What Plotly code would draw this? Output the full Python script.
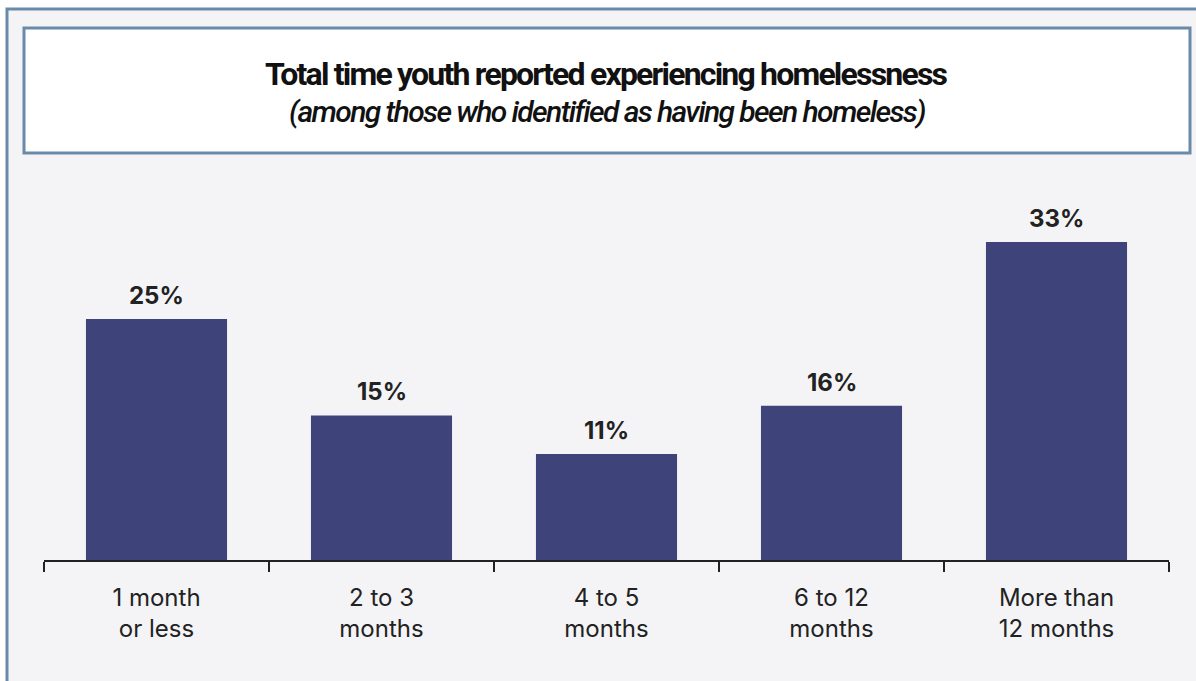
import plotly.graph_objects as go

categories = ["1 month<br>or less", "2 to 3<br>months", "4 to 5<br>months",
              "6 to 12<br>months", "More than<br>12 months"]
shares = [25, 15, 11, 16, 33]
value_labels = ["25%", "15%", "11%", "16%", "33%"]

title_line = "Total time youth reported experiencing homelessness"
subtitle_line = "(among those who identified as having been homeless)"

W, H = 1196, 681
L, R, T, B = 44, 27, 180, 121
PW, PH = W - L - R, H - T - B

BAR = "#3e4479"
PANEL = "#f4f4f7"
FRAME = "#6a8aa9"
INK = "#222222"
TITLE_FONT = "Roboto, sans-serif"
BODY_FONT = "Inter, Roboto, sans-serif"


def px_x(p):
    return (p - L) / PW


def px_y(p):
    return (H - B - p) / PH


fig = go.Figure(go.Bar(
    x=categories, y=shares, marker=dict(color=BAR, line=dict(width=0)),
    hoverinfo="skip",
))

for c, v, t in zip(categories, shares, value_labels):
    fig.add_annotation(x=c, y=v, text=f"<b>{t}</b>", showarrow=False,
                       yanchor="bottom", yshift=7,
                       font=dict(family=BODY_FONT, size=24, color=INK))

# condensed-looking heading: tightened letter spacing
fig.add_annotation(xref="paper", yref="paper", x=px_x(606.5), y=px_y(74),
                   text=f'<span style="letter-spacing:-1.8px"><b>{title_line}</b></span>',
                   showarrow=False, xanchor="center", yanchor="middle",
                   font=dict(family=TITLE_FONT, size=32, color="#111111"))
fig.add_annotation(xref="paper", yref="paper", x=px_x(606.5), y=px_y(111),
                   text=f'<span style="letter-spacing:-1.6px"><i>{subtitle_line}</i></span>',
                   showarrow=False, xanchor="center", yanchor="middle",
                   font=dict(family=TITLE_FONT, size=30, color="#111111",
                             weight=500))

# outer panel and framed title box
fig.add_shape(type="rect", xref="paper", yref="paper", layer="below",
              x0=px_x(7), x1=px_x(1210), y0=px_y(700), y1=px_y(9),
              fillcolor=PANEL, line=dict(color=FRAME, width=3))
fig.add_shape(type="rect", xref="paper", yref="paper", layer="below",
              x0=px_x(24), x1=px_x(1190), y0=px_y(153), y1=px_y(28),
              fillcolor="white", line=dict(color=FRAME, width=3))

fig.update_layout(
    width=W, height=H,
    margin=dict(l=L, r=R, t=T, b=B),
    paper_bgcolor="white", plot_bgcolor="rgba(0,0,0,0)",
    bargap=0.373, showlegend=False,
    xaxis=dict(showline=True, linecolor=INK, linewidth=2,
               ticks="outside", tickson="boundaries", ticklen=10,
               tickwidth=2, tickcolor=INK, showgrid=False,
               ticklabelstandoff=15,
               tickfont=dict(family=BODY_FONT, size=24, color=INK),
               range=[-0.5, 4.5], fixedrange=True),
    yaxis=dict(range=[0, PH / 9.64], visible=False, showgrid=False,
               zeroline=False, fixedrange=True),
)

fig.write_html("out.html")
